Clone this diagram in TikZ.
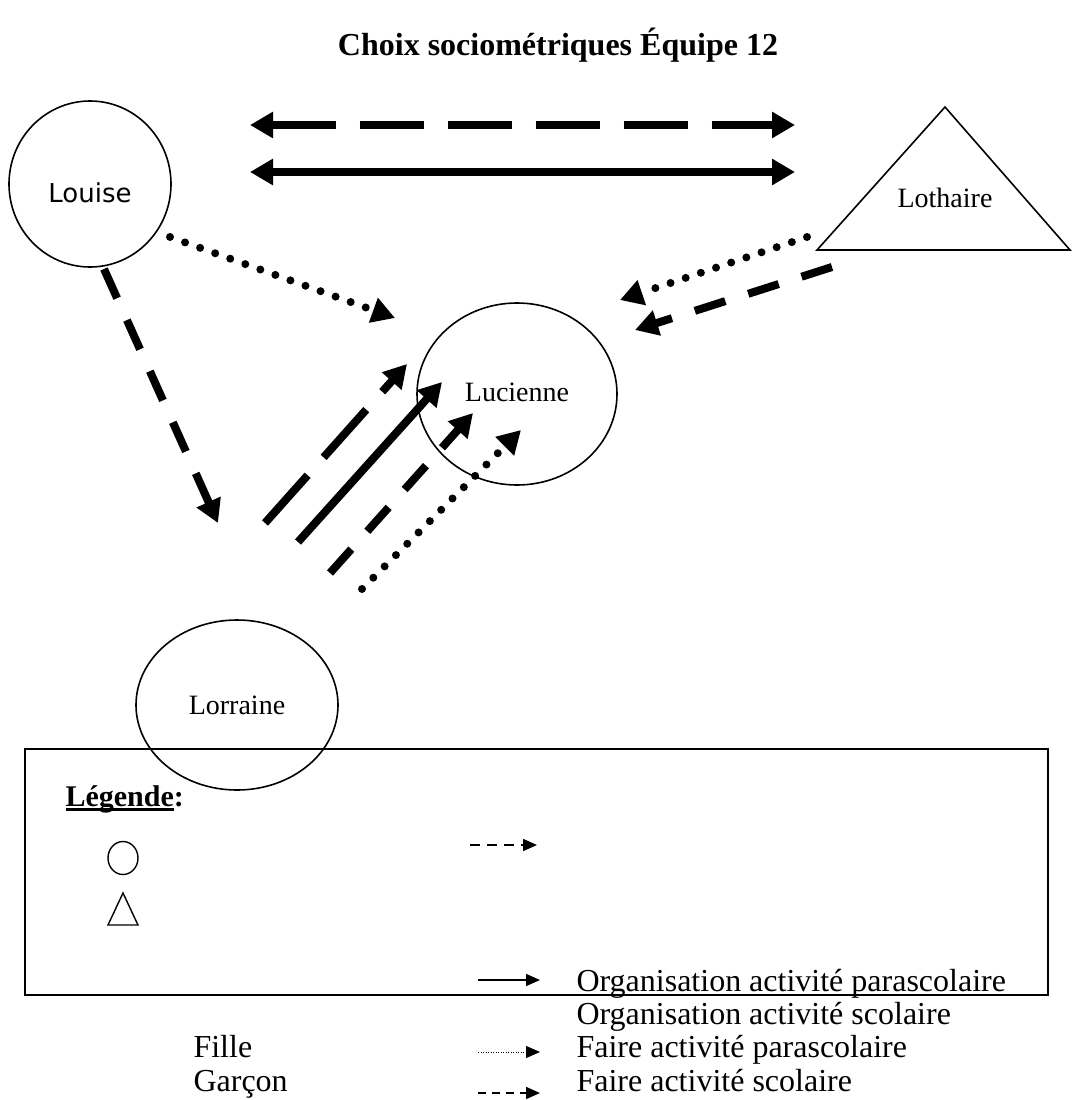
\documentclass[tikz,border=0pt]{standalone}
\usepackage{fontspec}
\setmainfont{Liberation Serif}
\newfontfamily\louisefont{DejaVu Sans}
\usetikzlibrary{arrows.meta,shapes.geometric}
\newlength\soulen
\newcommand\souligne[1]{\settowidth\soulen{#1}\rlap{\rule[-5pt]{\soulen}{2.8pt}}#1}

\begin{document}
\begin{tikzpicture}[x=1pt,y=-1pt,
  font=\fontsize{28}{34}\selectfont,
  >={Triangle[length=23pt,width=25pt]},
  pers/.style={ellipse,draw,line width=1.6pt,inner sep=0pt},
  big/.style={line width=8pt,->},
  longdash/.style={dash pattern=on 64pt off 24pt},
  shortdash/.style={dash pattern=on 32pt off 24pt},
  dots/.style={line width=8pt,line cap=round,dash pattern=on 0pt off 16pt},
  small/.style={line width=1.6pt,-{Triangle[length=14pt,width=12pt]}},
  legtxt/.style={anchor=base west,align=left,font=\fontsize{32}{33.3}\selectfont}]
\useasboundingbox (0,0) rectangle (1071,1100);
\node[font=\bfseries\fontsize{32}{38}\selectfont](titre) at (558,45){Choix sociométriques Équipe 12};
% personnes
\node[pers,minimum width=162pt,minimum height=166pt](louise) at (90,184){};
\node[font=\louisefont\fontsize{26}{30}\selectfont] at ([yshift=-9pt]louise.center){Louise};
\node[pers,minimum width=200pt,minimum height=182pt](lucienne) at (517,394){\raisebox{4pt}{Lucienne}};
\node[pers,minimum width=202pt,minimum height=170pt](lorraine) at (237,705){Lorraine};
\node(lothaire) at (945,198){Lothaire};
\draw[line width=1.6pt](945,107)--(1070,250)--(817,250)--cycle;
% bouts des fleches
\coordinate(h1) at (250,125);\coordinate(h2) at (795,125);
\coordinate(h3) at (250,172);\coordinate(h4) at (795,172);
\coordinate(lo1) at (104,269);\coordinate(lo2) at (218,523);
\coordinate(lo3) at (170,237);\coordinate(lo4) at (395,318);
\coordinate(th1) at (807,237);\coordinate(th2) at (620,300);
\coordinate(th3) at (832,267);\coordinate(th4) at (635,330);
\coordinate(r1) at (265,523);\coordinate(r2) at (407,364);
\coordinate(r3) at (298,542);\coordinate(r4) at (442,382);
\coordinate(r5) at (330,573);\coordinate(r6) at (473,413);
\coordinate(r7) at (362,589);\coordinate(r8) at (521,430);
% choix
\draw[big,<->,longdash](h1)--(h2);
\draw[big,<->](h3)--(h4);
\draw[big,shortdash](lo1)--(lo2);
\draw[big,dots](lo3)--(lo4);
\draw[big,dots](th1)--(th2);
\draw[big,shortdash](th3)--(th4);
\draw[big,longdash](r1)--(r2);
\draw[big](r3)--(r4);
\draw[big,shortdash](r5)--(r6);
\draw[big,dots](r7)--(r8);
% legende
\draw[line width=1.8pt](25,749) rectangle (1048,995);
\node[anchor=base west,font=\bfseries\fontsize{30}{36}\selectfont](leg) at (62,806){\souligne{Légende}:};
\node[ellipse,draw,line width=1.4pt,minimum width=30pt,minimum height=33pt,inner sep=0pt](fille) at (123,858){};
\draw[line width=1.4pt](123,893)--(138,925)--(108,925)--cycle;
\coordinate(s1) at (470,845);\coordinate(s2) at (537,845);
\coordinate(s3) at (478,980);\coordinate(s4) at (540,980);
\coordinate(s5) at (478,1052);\coordinate(s6) at (540,1052);
\coordinate(s7) at (478,1093);\coordinate(s8) at (540,1093);
\draw[small,dash pattern=on 10pt off 7pt](s1)--(s2);
\draw[small](s3)--(s4);
\draw[small,line width=1pt,dash pattern=on 1pt off 1.5pt](s5)--(s6);
\draw[small,dash pattern=on 8pt off 6pt](s7)--(s8);
\node[legtxt](types) at (573,1091){Organisation activité parascolaire\\Organisation activité scolaire\\Faire activité parascolaire\\Faire activité scolaire};
\node[legtxt](sexe) at (190,1091){Fille\\Garçon};
\end{tikzpicture}
\end{document}
